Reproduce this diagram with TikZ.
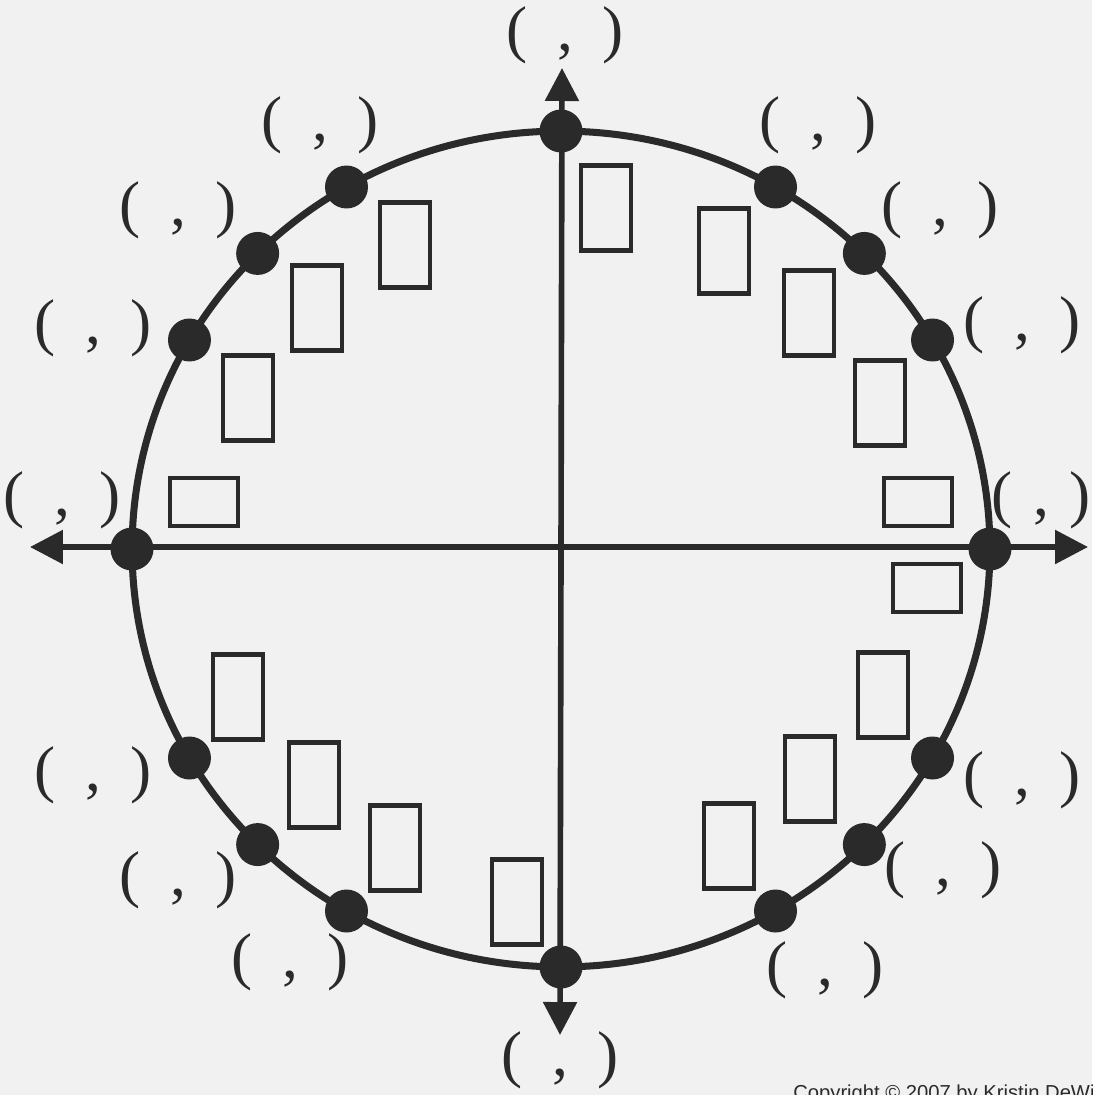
\documentclass[tikz,border=0pt]{standalone}
\usepackage{fontspec}
\setmainfont{Liberation Serif}
\newfontfamily\copyfont{Liberation Sans}
\usepackage{xcolor}
\usetikzlibrary{arrows.meta,positioning}
\definecolor{inkgray}{HTML}{2A2A2A}
\definecolor{paper}{HTML}{F1F1F1}
\newcommand{\pairlabel}{(\hspace{0.6cm},\hspace{0.6cm})}

\tikzset{
    dot/.style={circle, fill=inkgray, inner sep=0pt, minimum size=0.86cm},
    tallbox/.style={draw=inkgray, line width=2.7pt, minimum width=1.0cm, minimum height=1.7cm, inner sep=0pt},
    widebox/.style={draw=inkgray, line width=2.7pt, minimum width=1.36cm, minimum height=0.96cm, inner sep=0pt},
    pairtext/.style={text=inkgray, font=\fontsize{36}{40}\selectfont, inner sep=0pt},
    axis/.style={draw=inkgray, line width=3.2pt, {Triangle[length=0.66cm,width=0.66cm]}-{Triangle[length=0.66cm,width=0.66cm]}}
}

\begin{document}
\begin{tikzpicture}[x=0.02cm, y=-0.02cm]
    % Page
    \fill[paper] (0,0) rectangle (1092,1095);
    \useasboundingbox (0,0) rectangle (1092,1095);
    % Circle
    \coordinate (c) at (561,549);
    \draw[inkgray, line width=4pt] (c) ellipse [x radius=8.58cm, y radius=8.36cm];
    % Axes
    \coordinate (xl) at (30,547);
    \coordinate (xr) at (1088,547);
    \coordinate (yt) at (562,68);
    \coordinate (yb) at (560,1035);
    \draw[axis] (xl) -- (xr);
    \draw[axis] (yb) -- (yt);
    % Points on the circle
    \foreach \a in {0,30,45,60,90,120,135,150,180,210,225,240,270,300,315,330} {
        \node[dot] (p\a) at ({561+429*cos(\a)}, {549-418*sin(\a)}) {};
    }
    % Answer boxes
    \node[tallbox] (b90) at (606,208) {};
    \node[tallbox] (b60) at (724,251) {};
    \node[tallbox] (b45) at (809,313) {};
    \node[tallbox] (b30) at (880,403) {};
    \node[widebox] (b0) at (918,502) {};
    \node[widebox] (b360) at (927,588) {};
    \node[tallbox] (b330) at (883,695) {};
    \node[tallbox] (b315) at (810,779) {};
    \node[tallbox] (b300) at (729,846) {};
    \node[tallbox] (b270) at (517,902) {};
    \node[tallbox] (b240) at (395,848) {};
    \node[tallbox] (b225) at (314,785) {};
    \node[tallbox] (b210) at (238,697) {};
    \node[widebox] (b180) at (204,502) {};
    \node[tallbox] (b150) at (248,398) {};
    \node[tallbox] (b135) at (317,308) {};
    \node[tallbox] (b120) at (405,245) {};
    % Coordinate pairs
    \node[pairtext] (l90) at (565,35) {\pairlabel};
    \node[pairtext] (l60) at (818,125) {\pairlabel};
    \node[pairtext] (l45) at (940,210) {\pairlabel};
    \node[pairtext] (l30) at (1022,325) {\pairlabel};
    \node[pairtext] (l0) at (1041,500) {(\hspace{0.42cm},\hspace{0.42cm})};
    \node[pairtext] (l330) at (1022,780) {\pairlabel};
    \node[pairtext] (l315) at (943,870) {\pairlabel};
    \node[pairtext] (l300) at (825,970) {\pairlabel};
    \node[pairtext] (l270) at (560,1060) {\pairlabel};
    \node[pairtext] (l240) at (290,962) {\pairlabel};
    \node[pairtext] (l225) at (178,880) {\pairlabel};
    \node[pairtext] (l210) at (93,775) {\pairlabel};
    \node[pairtext] (l180) at (62,500) {\pairlabel};
    \node[pairtext] (l150) at (93,328) {\pairlabel};
    \node[pairtext] (l135) at (178,210) {\pairlabel};
    \node[pairtext] (l120) at (320,125) {\pairlabel};
    % Copyright line (cut by page edge)
    \node[anchor=base west, inner sep=0pt, text=inkgray, font=\copyfont\fontsize{11.5}{13}\selectfont] (copy) at (793,1099) {Copyright © 2007 by Kristin DeWitt};
\end{tikzpicture}
\end{document}
